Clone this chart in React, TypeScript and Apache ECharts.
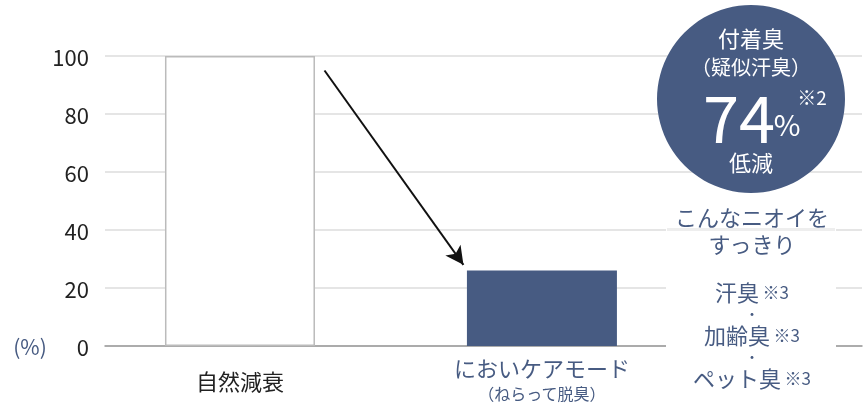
import { useEffect, useRef } from 'react';
import * as echarts from 'echarts';

const categories = ['自然減衰', 'においケアモード'];
const subLabels = ['', '（ねらって脱臭）'];
const values = [100, 26];
const yTicks = { min: 0, max: 100, interval: 20 };
const arrowFrom = [0.28, 95];
const arrowTo = [0.74, 28];
const odours = ['汗臭', '加齢臭', 'ペット臭'];

const NAVY = '#475b82';
const FONT = '"Noto Sans CJK JP", "Noto Sans", sans-serif';

const centred = (
  x: number,
  y: number,
  text: string,
  fill: string,
  fontSize: number,
  lineHeight = fontSize,
) => ({
  type: 'text',
  x,
  y,
  z: 100,
  style: {
    text,
    fill,
    fontSize,
    lineHeight,
    align: 'center',
    verticalAlign: 'middle',
    fontFamily: FONT,
  },
});

export default function App() {
  const ref = useRef<HTMLDivElement | null>(null);

  useEffect(() => {
    if (!ref.current) return;
    const chart = echarts.init(ref.current, undefined, { renderer: 'svg' });

    const odourTexts = odours.map((name, i) => ({
      type: 'text',
      x: 752,
      y: 291 + i * 43,
      z: 100,
      style: {
        text: `{k|${name}} {n|※3}`,
        align: 'center',
        verticalAlign: 'middle',
        rich: {
          k: { fill: NAVY, fontSize: 22, lineHeight: 22, fontFamily: FONT },
          n: { fill: NAVY, fontSize: 17, lineHeight: 22, fontFamily: FONT },
        },
      },
    }));
    const dots = odours.slice(1).map((_, i) => centred(752, 313 + i * 43, '・', NAVY, 14, 8));

    chart.setOption({
      animation: false,
      textStyle: { fontFamily: FONT },
      grid: { left: 105, right: 2, top: 56, bottom: 59 },
      xAxis: {
        type: 'value',
        min: -0.447,
        max: 2.06,
        axisLine: { show: true, lineStyle: { color: '#999', width: 1.5 } },
        axisTick: { show: false },
        axisLabel: { show: false },
        splitLine: { show: false },
      },
      yAxis: {
        type: 'value',
        ...yTicks,
        axisLine: { show: false },
        axisTick: { show: false },
        axisLabel: { color: '#222', fontSize: 22, margin: 16, fontFamily: FONT },
        splitLine: { lineStyle: { color: '#ddd', width: 1.5 } },
      },
      series: [
        {
          type: 'bar',
          barWidth: 150,
          data: values.map((v, i) => ({
            value: [i, v],
            itemStyle:
              i === 0
                ? { color: '#fff', borderColor: '#bbb', borderWidth: 1.5 }
                : { color: NAVY },
            label: {
              show: true,
              position: 'bottom',
              distance: i === 0 ? 21 : 8,
              formatter: subLabels[i]
                ? `{a|${categories[i]}}\n{b|${subLabels[i]}}`
                : `{c|${categories[i]}}`,
              rich: {
                a: { color: NAVY, fontSize: 22, lineHeight: 25, fontFamily: FONT },
                b: { color: NAVY, fontSize: 16, lineHeight: 27, fontFamily: FONT },
                c: { color: '#222', fontSize: 22, lineHeight: 25, fontFamily: FONT },
              },
            },
          })),
          markLine: {
            silent: true,
            symbol: ['none', 'arrow'],
            symbolSize: [14, 18],
            label: { show: false },
            lineStyle: { color: '#111', width: 2, type: 'solid' },
            data: [[{ coord: arrowFrom }, { coord: arrowTo }]],
          },
        },
      ],
      graphic: [
        centred(30, 346, '(%)', NAVY, 21),
        {
          type: 'circle',
          z: 99,
          shape: { cx: 751, cy: 99, r: 94 },
          style: { fill: NAVY },
        },
        centred(751, 37, '付着臭', '#fff', 22),
        centred(751, 66, '（疑似汗臭）', '#fff', 20),
        centred(739, 115, '74', '#fff', 65, 46),
        centred(787, 123, '%', '#fff', 29, 24),
        centred(812, 96, '※2', '#fff', 19, 16),
        centred(751, 161, '低減', '#fff', 22),
        {
          type: 'rect',
          z: 99,
          shape: { x: 666, y: 200, width: 170, height: 58 },
          style: { fill: '#fff' },
        },
        {
          type: 'rect',
          z: 99,
          shape: { x: 667, y: 228, width: 168, height: 3 },
          style: { fill: '#eee' },
        },
        centred(752, 216, 'こんなニオイを', NAVY, 22),
        centred(752, 243, 'すっきり', NAVY, 22),
        {
          type: 'rect',
          z: 99,
          shape: { x: 666, y: 262, width: 170, height: 143 },
          style: { fill: '#fff' },
        },
        ...odourTexts,
        ...dots,
      ],
    });

    const handleResize = () => chart.resize();
    window.addEventListener('resize', handleResize);
    return () => {
      window.removeEventListener('resize', handleResize);
      chart.dispose();
    };
  }, []);

  return (
    <div
      ref={ref}
      style={{ position: 'fixed', left: 0, top: 0, width: 864, height: 405 }}
    />
  );
}
